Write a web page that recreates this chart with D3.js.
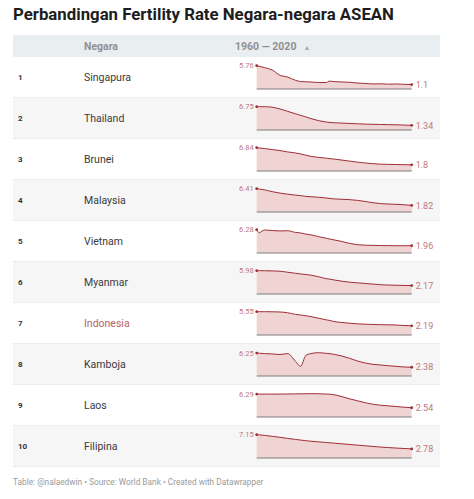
<!DOCTYPE html>
<html><head><meta charset="utf-8">
<script src="https://cdn.jsdelivr.net/npm/d3@7"></script>
<style>
html,body{margin:0;padding:0;background:#fff;}
svg{display:block;font-family:Roboto,"Noto Sans",sans-serif;}
</style></head>
<body>
<svg id="chart" width="474" height="499"></svg>
<script>
const title = "Perbandingan Fertility Rate Negara-negara ASEAN";
const footer = "Table: @nalaedwin • Source: World Bank • Created with Datawrapper";
const headerCountry = "Negara";
const headerSpark = "1960 — 2020";
const ranks = [1,2,3,4,5,6,7,8,9,10];
const countries = ["Singapura","Thailand","Brunei","Malaysia","Vietnam","Myanmar","Indonesia","Kamboja","Laos","Filipina"];
const highlight = "Indonesia";
const years = [1960,1961,1963,1966,1969,1972,1975,1977,1979,1981,1984,1987,1988,1990,1993,1996,1999,2002,2005,2008,2011,2014,2017,2020];
const singapura = [5.76,5.6,5.3,4.7,3.4,2.95,2.15,1.85,1.78,1.74,1.6,1.6,1.95,1.83,1.74,1.66,1.47,1.37,1.26,1.28,1.2,1.25,1.16,1.1];
const thailand  = [6.75,6.75,6.75,6.6,6.1,5.4,4.7,4.25,3.8,3.3,2.7,2.3,2.2,2.1,2.0,1.9,1.8,1.7,1.65,1.6,1.55,1.5,1.43,1.34];
const brunei    = [6.84,6.75,6.6,6.3,6.0,5.6,5.3,5.0,4.65,4.3,4.0,3.75,3.65,3.5,3.2,2.9,2.6,2.35,2.15,2.0,1.95,1.9,1.85,1.8];
const malaysia  = [6.41,6.3,6.1,5.6,5.2,4.9,4.65,4.5,4.3,4.2,4.05,3.85,3.75,3.6,3.5,3.4,3.2,2.9,2.55,2.3,2.2,2.1,2.0,1.82];
const vietnam   = [6.28,5.5,6.2,6.05,5.95,6.0,5.55,5.4,5.1,4.9,4.4,3.96,3.8,3.53,3.1,2.58,2.24,2.1,2.06,2.0,1.98,1.96,1.96,1.96];
const myanmar   = [5.98,5.98,5.97,5.93,5.85,5.58,5.32,5.15,5.0,4.83,4.42,3.93,3.85,3.6,3.28,3.03,2.87,2.7,2.54,2.38,2.29,2.25,2.2,2.17];
const indonesia = [5.55,5.55,5.55,5.53,5.48,5.3,4.92,4.77,4.6,4.38,3.99,3.6,3.5,3.2,2.97,2.81,2.66,2.58,2.5,2.46,2.42,2.38,2.27,2.19];
const kamboja   = [6.25,6.2,6.1,6.0,5.85,6.1,4.0,2.63,5.6,6.1,6.34,6.16,6.1,5.89,5.43,4.8,4.08,3.53,3.17,2.99,2.8,2.63,2.45,2.38];
const laos      = [6.29,6.29,6.29,6.29,6.3,6.32,6.35,6.37,6.38,6.4,6.38,6.3,6.28,6.12,5.6,4.98,4.46,3.93,3.5,3.23,3.06,2.88,2.7,2.54];
const filipina  = [7.15,7.1,6.95,6.65,6.35,6.0,5.7,5.5,5.3,5.15,4.95,4.75,4.68,4.55,4.35,4.15,3.95,3.75,3.55,3.35,3.2,3.05,2.92,2.78];
const series = [singapura,thailand,brunei,malaysia,vietnam,myanmar,indonesia,kamboja,laos,filipina];

const svg = d3.select("#chart");
const L = 13, R = 440, headTop = 35, headH = 22, rowH = 41;
const tableTop = headTop + headH;

svg.append("text").attr("x", L).attr("y", 20)
  .attr("font-size", 16.8).attr("font-weight", 700).attr("fill", "#1d1d1d")
  .text(title);

svg.append("rect").attr("x", L).attr("y", headTop).attr("width", R - L).attr("height", headH)
  .attr("fill", "#e9eef0");
svg.append("text").attr("x", 84).attr("y", headTop + headH/2).attr("dy", "0.35em")
  .attr("font-size", 10.5).attr("font-weight", 700).attr("fill", "#909090").text(headerCountry);
const hs = svg.append("text").attr("x", 235).attr("y", headTop + headH/2).attr("dy", "0.35em")
  .attr("font-size", 10.5).attr("font-weight", 700).attr("fill", "#909090");
hs.append("tspan").text(headerSpark);
hs.append("tspan").attr("dx", 7).attr("font-size", 7).attr("fill", "#aaa").text("▲");

const yRow = d3.scaleBand().domain(countries).range([tableTop, tableTop + rowH * countries.length]);
const x = d3.scaleLinear().domain([1960, 2020]).range([256.7, 411.7]);

const rows = svg.selectAll("g.row").data(countries).join("g").attr("class", "row")
  .attr("transform", d => `translate(0,${yRow(d)})`);

rows.append("rect").attr("x", L).attr("y", 0).attr("width", R - L).attr("height", rowH)
  .attr("fill", (d, i) => i % 2 ? "#f6f6f6" : "#ffffff");
rows.append("line").attr("x1", L).attr("x2", R).attr("y1", rowH - 0.5).attr("y2", rowH - 0.5)
  .attr("stroke", "#ececec");

rows.append("text").attr("x", 18).attr("y", rowH/2).attr("dy", "0.35em")
  .attr("font-size", 8).attr("font-weight", 700).attr("fill", "#333")
  .text((d, i) => ranks[i]);
rows.append("text").attr("x", 84).attr("y", rowH/2).attr("dy", "0.35em")
  .attr("font-size", 10.5).attr("fill", d => d === highlight ? "#b4626b" : "#3a3a3a")
  .text(d => d);

rows.each(function(c, i) {
  const g = d3.select(this);
  const vals = series[i];
  const data = years.map((yr, j) => ({yr, v: vals[j]}));
  const y = d3.scaleLinear().domain([0, d3.max(vals)]).range([32, 8.7]);
  const area = d3.area().x(d => x(d.yr)).y0(y(0)).y1(d => y(d.v)).curve(d3.curveMonotoneX);
  const line = d3.line().x(d => x(d.yr)).y(d => y(d.v)).curve(d3.curveMonotoneX);
  g.append("path").attr("d", area(data)).attr("fill", "#f0d3d3");
  g.append("path").attr("d", line(data)).attr("fill", "none").attr("stroke", "#9e2f36").attr("stroke-width", 1);
  g.append("line").attr("x1", x(1960)).attr("x2", x(2020)).attr("y1", y(0)).attr("y2", y(0))
    .attr("stroke", "#7d7d7d").attr("stroke-width", 1);
  const first = data[0], last = data[data.length - 1];
  g.append("circle").attr("cx", x(first.yr)).attr("cy", y(first.v)).attr("r", 1.4).attr("fill", "#9e2f36");
  g.append("circle").attr("cx", x(last.yr)).attr("cy", y(last.v)).attr("r", 1.4).attr("fill", "#9e2f36");
  g.append("text").attr("x", x(first.yr) - 3).attr("y", y(first.v)).attr("dy", "0.35em")
    .attr("text-anchor", "end").attr("font-size", 7.5).attr("fill", "#c0767d").text(first.v);
  g.append("text").attr("x", x(last.yr) + 4).attr("y", y(last.v)).attr("dy", "0.35em")
    .attr("font-size", 9).attr("fill", "#c0767d").text(last.v);
});

svg.append("text").attr("x", L).attr("y", 485).attr("font-size", 8.3).attr("fill", "#9a9a9a").text(footer);
</script>
</body></html>
